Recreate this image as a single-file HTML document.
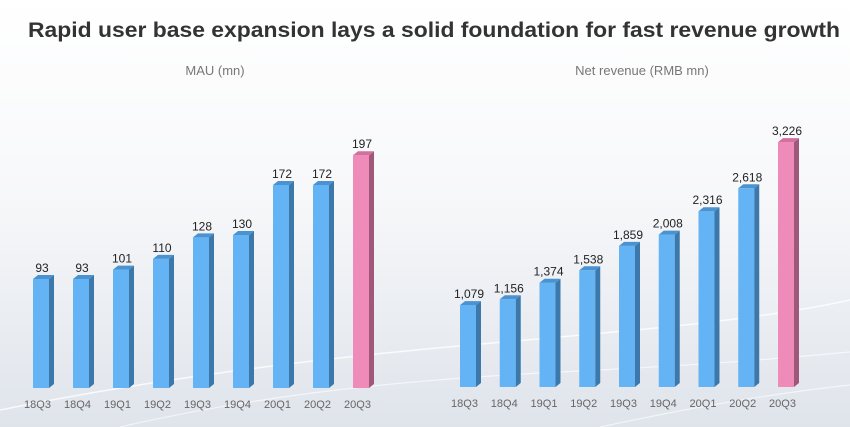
<!DOCTYPE html>
<html><head><meta charset="utf-8"><style>
html,body{margin:0;padding:0;width:850px;height:427px;overflow:hidden;background:#fff}
svg{display:block}
</style></head><body>
<svg width="850" height="427" viewBox="0 0 850 427" xmlns="http://www.w3.org/2000/svg" font-family="'Liberation Sans', Arial, sans-serif">
<defs>
<linearGradient id="bg" x1="0" y1="0" x2="0" y2="1">
<stop offset="0" stop-color="#ffffff"/>
<stop offset="0.45" stop-color="#f7f8fa"/>
<stop offset="1" stop-color="#dfe4eb"/>
</linearGradient>
</defs>
<rect width="850" height="427" fill="url(#bg)"/>
<path d="M0,410 C150,380 300,360 470,345 S760,320 850,300" stroke="#ffffff" stroke-width="1.5" fill="none" opacity="0.8"/>
<path d="M120,427 C260,395 400,380 560,372 S760,360 850,352" stroke="#ffffff" stroke-width="1.2" fill="none" opacity="0.6"/>
<path d="M600,427 C680,410 760,395 850,385" stroke="#ffffff" stroke-width="1.2" fill="none" opacity="0.6"/>

<text x="28" y="37" font-size="21" font-weight="bold" fill="#333" textLength="812" lengthAdjust="spacingAndGlyphs">Rapid user base expansion lays a solid foundation for fast revenue growth</text>
<text x="215" y="75" font-size="13" fill="#777" text-anchor="middle">MAU (mn)</text>
<text x="642" y="75" font-size="13" fill="#777" text-anchor="middle">Net revenue (RMB mn)</text>

<g id="left">
<!-- bar template: front x..x+16, top t, bottom 388 -->
<!-- 18Q3 93 -->
<g><rect x="33" y="279" width="16" height="109" fill="#63b3f5"/><polygon points="49,279 54,275 54,384 49,388" fill="#3c79aa"/><polygon points="33,279 38,275 54,275 49,279" fill="#4a92d0"/></g>
<g><rect x="73" y="279" width="16" height="109" fill="#63b3f5"/><polygon points="89,279 94,275 94,384 89,388" fill="#3c79aa"/><polygon points="73,279 78,275 94,275 89,279" fill="#4a92d0"/></g>
<g><rect x="113" y="269.6" width="16" height="118.4" fill="#63b3f5"/><polygon points="129,269.6 134,265.6 134,384 129,388" fill="#3c79aa"/><polygon points="113,269.6 118,265.6 134,265.6 129,269.6" fill="#4a92d0"/></g>
<g><rect x="153" y="258.9" width="16" height="129.1" fill="#63b3f5"/><polygon points="169,258.9 174,254.9 174,384 169,388" fill="#3c79aa"/><polygon points="153,258.9 158,254.9 174,254.9 169,258.9" fill="#4a92d0"/></g>
<g><rect x="193" y="237.4" width="16" height="150.6" fill="#63b3f5"/><polygon points="209,237.4 214,233.4 214,384 209,388" fill="#3c79aa"/><polygon points="193,237.4 198,233.4 214,233.4 209,237.4" fill="#4a92d0"/></g>
<g><rect x="233" y="235" width="16" height="153" fill="#63b3f5"/><polygon points="249,235 254,231 254,384 249,388" fill="#3c79aa"/><polygon points="233,235 238,231 254,231 249,235" fill="#4a92d0"/></g>
<g><rect x="273" y="185" width="16" height="203" fill="#63b3f5"/><polygon points="289,185 294,181 294,384 289,388" fill="#3c79aa"/><polygon points="273,185 278,181 294,181 289,185" fill="#4a92d0"/></g>
<g><rect x="313" y="185" width="16" height="203" fill="#63b3f5"/><polygon points="329,185 334,181 334,384 329,388" fill="#3c79aa"/><polygon points="313,185 318,181 334,181 329,185" fill="#4a92d0"/></g>
<g><rect x="353" y="155.2" width="16" height="232.8" fill="#ef8bb9"/><polygon points="369,155.2 374,151.2 374,384 369,388" fill="#a0587a"/><polygon points="353,155.2 358,151.2 374,151.2 369,155.2" fill="#d46f9f"/></g>

<g font-size="12" fill="#222" text-anchor="middle">
<text x="42" y="272">93</text>
<text x="82" y="272">93</text>
<text x="122" y="262.6">101</text>
<text x="162" y="251.9">110</text>
<text x="202" y="230.4">128</text>
<text x="242" y="228">130</text>
<text x="282" y="178">172</text>
<text x="322" y="178">172</text>
<text x="362" y="148.2">197</text>
</g>
<g font-size="11" fill="#666" text-anchor="middle">
<text x="37.5" y="408">18Q3</text>
<text x="77.5" y="408">18Q4</text>
<text x="117.5" y="408">19Q1</text>
<text x="157.5" y="408">19Q2</text>
<text x="197.5" y="408">19Q3</text>
<text x="237.5" y="408">19Q4</text>
<text x="277.5" y="408">20Q1</text>
<text x="317.5" y="408">20Q2</text>
<text x="357.5" y="408">20Q3</text>
</g>
</g>

<g id="right">
<g><rect x="460" y="305.1" width="16" height="81.9" fill="#63b3f5"/><polygon points="476,305.1 481,301.1 481,383 476,387" fill="#3c79aa"/><polygon points="460,305.1 465,301.1 481,301.1 476,305.1" fill="#4a92d0"/></g>
<g><rect x="499.75" y="299.3" width="16" height="87.7" fill="#63b3f5"/><polygon points="515.75,299.3 520.75,295.3 520.75,383 515.75,387" fill="#3c79aa"/><polygon points="499.75,299.3 504.75,295.3 520.75,295.3 515.75,299.3" fill="#4a92d0"/></g>
<g><rect x="539.5" y="282.7" width="16" height="104.3" fill="#63b3f5"/><polygon points="555.5,282.7 560.5,278.7 560.5,383 555.5,387" fill="#3c79aa"/><polygon points="539.5,282.7 544.5,278.7 560.5,278.7 555.5,282.7" fill="#4a92d0"/></g>
<g><rect x="579.25" y="270.3" width="16" height="116.7" fill="#63b3f5"/><polygon points="595.25,270.3 600.25,266.3 600.25,383 595.25,387" fill="#3c79aa"/><polygon points="579.25,270.3 584.25,266.3 600.25,266.3 595.25,270.3" fill="#4a92d0"/></g>
<g><rect x="619" y="245.9" width="16" height="141.1" fill="#63b3f5"/><polygon points="635,245.9 640,241.9 640,383 635,387" fill="#3c79aa"/><polygon points="619,245.9 624,241.9 640,241.9 635,245.9" fill="#4a92d0"/></g>
<g><rect x="658.75" y="234.6" width="16" height="152.4" fill="#63b3f5"/><polygon points="674.75,234.6 679.75,230.6 679.75,383 674.75,387" fill="#3c79aa"/><polygon points="658.75,234.6 663.75,230.6 679.75,230.6 674.75,234.6" fill="#4a92d0"/></g>
<g><rect x="698.5" y="211.2" width="16" height="175.8" fill="#63b3f5"/><polygon points="714.5,211.2 719.5,207.2 719.5,383 714.5,387" fill="#3c79aa"/><polygon points="698.5,211.2 703.5,207.2 719.5,207.2 714.5,211.2" fill="#4a92d0"/></g>
<g><rect x="738.25" y="188.3" width="16" height="198.7" fill="#63b3f5"/><polygon points="754.25,188.3 759.25,184.3 759.25,383 754.25,387" fill="#3c79aa"/><polygon points="738.25,188.3 743.25,184.3 759.25,184.3 754.25,188.3" fill="#4a92d0"/></g>
<g><rect x="778" y="142.1" width="16" height="244.9" fill="#ef8bb9"/><polygon points="794,142.1 799,138.1 799,383 794,387" fill="#a0587a"/><polygon points="778,142.1 783,138.1 799,138.1 794,142.1" fill="#d46f9f"/></g>

<g font-size="12" fill="#222" text-anchor="middle">
<text x="469" y="298.1">1,079</text>
<text x="508.75" y="292.3">1,156</text>
<text x="548.5" y="275.7">1,374</text>
<text x="588.25" y="263.3">1,538</text>
<text x="628" y="238.9">1,859</text>
<text x="667.75" y="227.6">2,008</text>
<text x="707.5" y="204.2">2,316</text>
<text x="747.25" y="181.3">2,618</text>
<text x="787" y="135.1">3,226</text>
</g>
<g font-size="11" fill="#666" text-anchor="middle">
<text x="464.5" y="407">18Q3</text>
<text x="504.25" y="407">18Q4</text>
<text x="544" y="407">19Q1</text>
<text x="583.75" y="407">19Q2</text>
<text x="623.5" y="407">19Q3</text>
<text x="663.25" y="407">19Q4</text>
<text x="703" y="407">20Q1</text>
<text x="742.75" y="407">20Q2</text>
<text x="782.5" y="407">20Q3</text>
</g>
</g>
</svg>
</body></html>
